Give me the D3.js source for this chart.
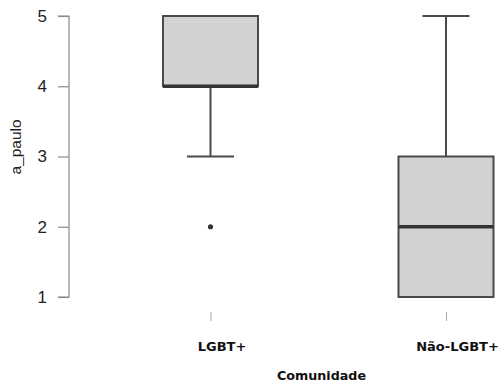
<!DOCTYPE html>
<html><head><meta charset="utf-8">
<script src="https://cdn.jsdelivr.net/npm/d3@7"></script>
<style>body{margin:0;background:#fff}svg{display:block}</style>
</head><body><svg id="c" width="501" height="383"></svg>
<script>
const categories = ["LGBT+", "Não-LGBT+"];
const q1 = [4, 1];
const median = [4, 2];
const q3 = [5, 3];
const whiskerLow = [3, 1];
const whiskerHigh = [5, 5];
const outliers = [[2], []];
const yTicks = [1, 2, 3, 4, 5];

const svg = d3.select("#c");
const y = d3.scaleLinear().domain([1, 5]).range([297, 16]);
const x = d3.scalePoint().domain(categories).range([210.5, 446]);
const boxW = 95, capW = 47;
const stroke = "#4a4a4a";

// y axis
const ya = svg.append("g").attr("transform", "translate(69,0)")
  .call(d3.axisLeft(y).tickValues(yTicks).tickSize(11).tickPadding(11).tickFormat(d3.format("d")));
ya.select(".domain").attr("stroke", "#8a8a8a").attr("stroke-width", 1.2).attr("d", `M-11,${y(5)}H0V${y(1)}H-11`);
ya.selectAll(".tick line").attr("stroke", "#8a8a8a").attr("stroke-width", 1.2);
ya.selectAll(".tick text").attr("font-family", "Liberation Sans, Arial, sans-serif").attr("font-size", 17).attr("fill", "#222");

// x axis ticks (short grey)
const xa = svg.append("g").attr("transform", "translate(0,312)")
  .call(d3.axisBottom(x).tickSize(9).tickPadding(0));
xa.select(".domain").remove();
xa.selectAll(".tick line").attr("stroke", "#aaa").attr("stroke-width", 1);
xa.selectAll(".tick text").attr("dy", null).attr("y", 39).attr("dx", 11)
  .attr("font-family", "DejaVu Sans, sans-serif").attr("font-weight", "bold").attr("font-size", 13).attr("fill", "#111");

// titles
svg.append("text").attr("x", 321.5).attr("y", 380).attr("text-anchor", "middle")
  .attr("font-family", "DejaVu Sans, sans-serif").attr("font-weight", "bold").attr("font-size", 12.7).attr("fill", "#111").text("Comunidade");
svg.append("text").attr("transform", `translate(21,147) rotate(-90)`).attr("text-anchor", "middle")
  .attr("font-family", "Liberation Sans, Arial, sans-serif").attr("font-size", 15.5).attr("fill", "#222").text("a_paulo");

// boxes
categories.forEach((c, i) => {
  const cx = x(c);
  const g = svg.append("g");
  if (whiskerHigh[i] > q3[i]) {
    g.append("line").attr("x1", cx).attr("x2", cx).attr("y1", y(q3[i])).attr("y2", y(whiskerHigh[i])).attr("stroke", stroke).attr("stroke-width", 2);
    g.append("line").attr("x1", cx - capW/2).attr("x2", cx + capW/2).attr("y1", y(whiskerHigh[i])).attr("y2", y(whiskerHigh[i])).attr("stroke", stroke).attr("stroke-width", 2);
  }
  if (whiskerLow[i] < q1[i]) {
    g.append("line").attr("x1", cx).attr("x2", cx).attr("y1", y(q1[i])).attr("y2", y(whiskerLow[i])).attr("stroke", stroke).attr("stroke-width", 2);
    g.append("line").attr("x1", cx - capW/2).attr("x2", cx + capW/2).attr("y1", y(whiskerLow[i])).attr("y2", y(whiskerLow[i])).attr("stroke", stroke).attr("stroke-width", 2);
  }
  g.append("rect").attr("x", cx - boxW/2).attr("width", boxW)
    .attr("y", y(q3[i])).attr("height", y(q1[i]) - y(q3[i]))
    .attr("fill", "#d2d2d2").attr("stroke", stroke).attr("stroke-width", 2);
  g.append("line").attr("x1", cx - boxW/2).attr("x2", cx + boxW/2).attr("y1", y(median[i])).attr("y2", y(median[i]))
    .attr("stroke", "#333").attr("stroke-width", 3.5);
  outliers[i].forEach(o => {
    g.append("circle").attr("cx", cx).attr("cy", y(o)).attr("r", 2.6).attr("fill", "#333");
  });
});
</script></body></html>
